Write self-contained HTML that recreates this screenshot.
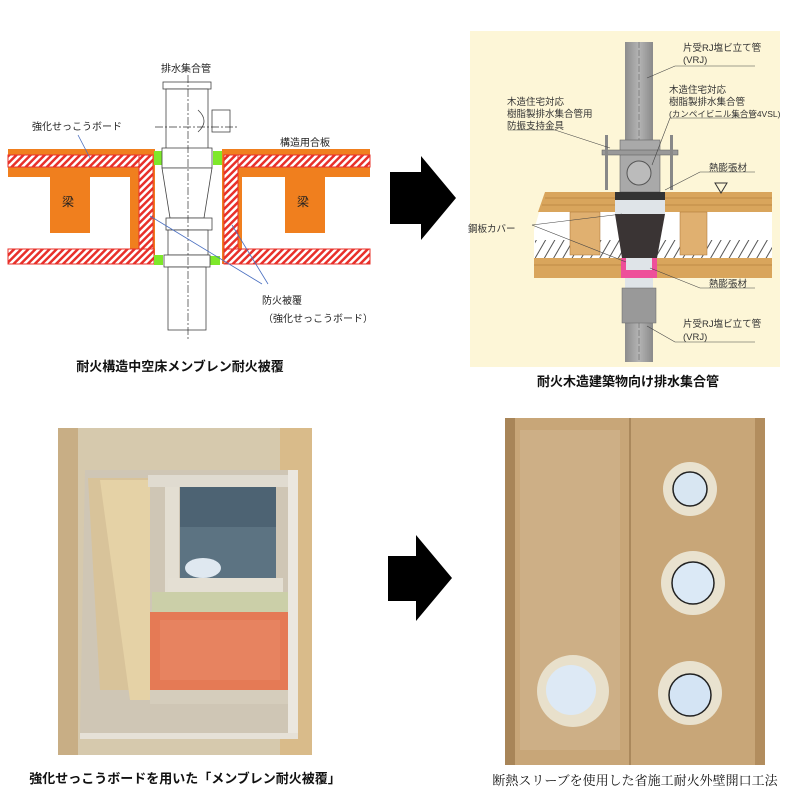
<!DOCTYPE html>
<html><head><meta charset="utf-8"><style>
html,body{margin:0;padding:0;background:#fff;}
svg{display:block;font-family:"Liberation Sans","Noto Sans CJK JP",sans-serif;}
</style></head><body>
<svg width="795" height="799" viewBox="0 0 795 799" xmlns="http://www.w3.org/2000/svg">
<defs>
<pattern id="hat" width="5" height="5" patternUnits="userSpaceOnUse" patternTransform="rotate(45)">
<rect width="5" height="5" fill="#fff"/><rect width="2.5" height="5" fill="#e8302a"/></pattern>
<pattern id="hat2" width="8" height="8" patternUnits="userSpaceOnUse" patternTransform="rotate(30)">
<rect width="8" height="8" fill="#fff"/><rect width="1" height="8" fill="#555"/></pattern>
<linearGradient id="pipe" x1="0" x2="1"><stop offset="0" stop-color="#8d8d8d"/><stop offset=".5" stop-color="#b4b4b4"/><stop offset="1" stop-color="#8a8a8a"/></linearGradient>
</defs>

<!-- ===== Top-left diagram ===== -->
<g>
<!-- orange slab -->
<rect x="8" y="149" width="147" height="28" fill="#f07f1e"/>
<rect x="222" y="149" width="148" height="28" fill="#f07f1e"/>
<rect x="130" y="149" width="25" height="115" fill="#f07f1e"/>
<rect x="222" y="149" width="20" height="115" fill="#f07f1e"/>
<rect x="50" y="177" width="40" height="56" fill="#f07f1e"/>
<rect x="285" y="177" width="40" height="56" fill="#f07f1e"/>
<!-- hatched boards -->
<rect x="8" y="155" width="142" height="12" fill="url(#hat)" stroke="#e8302a"/>
<rect x="228" y="155" width="142" height="12" fill="url(#hat)" stroke="#e8302a"/>
<rect x="139" y="155" width="14" height="109" fill="url(#hat)" stroke="#e8302a"/>
<rect x="224" y="155" width="14" height="109" fill="url(#hat)" stroke="#e8302a"/>
<rect x="8" y="249" width="146" height="15" fill="url(#hat)" stroke="#e8302a"/>
<rect x="224" y="249" width="146" height="15" fill="url(#hat)" stroke="#e8302a"/>
<!-- green seals -->
<rect x="154" y="151" width="9" height="14" fill="#7ee82a"/>
<rect x="213" y="151" width="9" height="14" fill="#7ee82a"/>
<rect x="154" y="255" width="9" height="10" fill="#7ee82a"/>
<rect x="208" y="256" width="12" height="9" fill="#7ee82a"/>
<!-- pipe -->
<g fill="#fff" stroke="#444" stroke-width="0.8">
<rect x="163" y="82" width="48" height="7"/>
<rect x="166" y="89" width="42" height="60"/>
<rect x="212" y="110" width="18" height="22"/>
<path d="M198 110 Q210 121 198 132" />
<rect x="162" y="148" width="50" height="20"/>
<path d="M162 168 L212 168 L204 218 L170 218 Z"/>
<rect x="166" y="218" width="46" height="12"/>
<rect x="168" y="230" width="40" height="25"/>
<rect x="164" y="255" width="46" height="12"/>
<rect x="168" y="267" width="38" height="63"/>
</g>
<line x1="188" y1="75" x2="188" y2="340" stroke="#333" stroke-width="0.7" stroke-dasharray="8,2,2,2"/>
<line x1="155" y1="127" x2="237" y2="127" stroke="#333" stroke-width="0.7" stroke-dasharray="8,2,2,2"/>
<!-- leaders -->
<line x1="78" y1="135" x2="90" y2="158" stroke="#4a6fc0" stroke-width="0.8"/>
<line x1="150" y1="216" x2="262" y2="284" stroke="#4a6fc0" stroke-width="0.8"/>
<line x1="232" y1="225" x2="268" y2="284" stroke="#4a6fc0" stroke-width="0.8"/>
<g font-size="10" fill="#222">
<text x="161" y="72">排水集合管</text>
<text x="32" y="130">強化せっこうボード</text>
<text x="280" y="146">構造用合板</text>
<text x="62" y="206" font-size="12">梁</text>
<text x="297" y="206" font-size="12">梁</text>
<text x="262" y="304">防火被覆</text>
<text x="263" y="322">（強化せっこうボード）</text>
</g>
<text x="180" y="371" text-anchor="middle" font-size="13" font-weight="bold" fill="#111">耐火構造中空床メンブレン耐火被覆</text>
</g>

<!-- arrow 1 -->
<path d="M390 172 L421 172 L421 156 L456 198 L421 240 L421 224 L390 224 Z" fill="#000"/>

<!-- ===== Top-right diagram ===== -->
<g>
<rect x="470" y="31" width="310" height="336" fill="#fdf6d7"/>
<!-- floor -->
<path d="M545 192 L772 192 L772 278 L534 278 L534 230 Z" fill="#fff"/>
<path d="M545 192 L772 192 L772 212 L538 212 Z" fill="#d9a55c"/>
<line x1="545" y1="198" x2="772" y2="198" stroke="#a87030" stroke-width="0.6"/>
<line x1="542" y1="205" x2="772" y2="205" stroke="#a87030" stroke-width="0.6"/>
<rect x="535" y="240" width="237" height="18" fill="url(#hat2)"/>
<rect x="534" y="258" width="238" height="20" fill="#d9a55c"/>
<line x1="534" y1="265" x2="772" y2="265" stroke="#a87030" stroke-width="0.6"/>
<rect x="570" y="212" width="30" height="43" fill="#e0b070" stroke="#a87030" stroke-width="0.5"/>
<rect x="680" y="212" width="27" height="43" fill="#e0b070" stroke="#a87030" stroke-width="0.5"/>
<!-- pipe -->
<rect x="625" y="42" width="28" height="320" fill="url(#pipe)"/>
<line x1="639" y1="42" x2="639" y2="362" stroke="#555" stroke-width="0.5" stroke-dasharray="6,2"/>
<rect x="620" y="140" width="40" height="52" fill="#a9a9a9" stroke="#666" stroke-width="0.6"/>
<circle cx="639" cy="173" r="12" fill="#bbb" stroke="#555"/>
<rect x="602" y="150" width="76" height="5" fill="#999" stroke="#555" stroke-width="0.5"/>
<rect x="605" y="135" width="3" height="55" fill="#888"/>
<rect x="670" y="135" width="3" height="55" fill="#888"/>
<!-- cone -->
<rect x="615" y="192" width="50" height="8" fill="#333"/>
<rect x="615" y="200" width="50" height="14" fill="#dfe4e8"/>
<path d="M615 214 L665 214 L657 258 L622 258 Z" fill="#3a3434"/>
<rect x="621" y="258" width="36" height="20" fill="#ee4f9a"/>
<rect x="626" y="258" width="26" height="12" fill="#dfe4e8"/>
<rect x="625" y="278" width="28" height="10" fill="#dfe4e8"/>
<rect x="622" y="288" width="34" height="35" fill="#999" stroke="#666" stroke-width="0.5"/>
<path d="M715 183 L727 183 L721 193 Z" fill="none" stroke="#333"/>
<!-- leaders -->
<g stroke="#444" stroke-width="0.6" fill="none">
<path d="M647 78 L675 66 L755 66"/>
<path d="M652 165 L670 118 L755 118"/>
<path d="M508 130 L555 130 L610 148"/>
<path d="M665 190 L700 172 L755 172"/>
<path d="M532 225 L622 214"/>
<path d="M532 225 L626 262"/>
<path d="M650 268 L700 288 L755 288"/>
<path d="M647 326 L675 342 L755 342"/>
</g>
<g font-size="9.5" fill="#333">
<text x="683" y="51">片受RJ塩ビ立て管</text>
<text x="683" y="63">(VRJ)</text>
<text x="669" y="93">木造住宅対応</text>
<text x="669" y="105">樹脂製排水集合管</text>
<text x="669" y="117" font-size="8.5">(カンペイビニル集合管4VSL)</text>
<text x="507" y="105">木造住宅対応</text>
<text x="507" y="117">樹脂製排水集合管用</text>
<text x="507" y="129">防振支持金具</text>
<text x="709" y="171">熱膨張材</text>
<text x="468" y="232">鋼板カバー</text>
<text x="709" y="287">熱膨張材</text>
<text x="683" y="327">片受RJ塩ビ立て管</text>
<text x="683" y="340">(VRJ)</text>
</g>
<text x="628" y="386" text-anchor="middle" font-size="13" font-weight="bold" fill="#111">耐火木造建築物向け排水集合管</text>
</g>

<!-- ===== Bottom-left photo ===== -->
<g>
<rect x="58" y="428" width="254" height="327" fill="#d6c9ad"/>
<rect x="280" y="428" width="32" height="327" fill="#d9bb8a"/>
<rect x="58" y="428" width="20" height="327" fill="#c8ae85"/>
<path d="M85 470 L295 470 L295 735 L80 735 Z" fill="#cfc6b5"/>
<path d="M88 478 L150 478 L150 690 L100 690 Z" fill="#d8c39a"/>
<path d="M100 480 L150 480 L150 700 L130 700 Z" fill="#e5d2a6"/>
<rect x="148" y="475" width="142" height="12" fill="#e0dbd0"/>
<rect x="165" y="487" width="14" height="105" fill="#e3ded2"/>
<rect x="180" y="487" width="96" height="92" fill="#5c7382"/>
<rect x="180" y="487" width="96" height="40" fill="#4d6373"/>
<ellipse cx="203" cy="568" rx="18" ry="10" fill="#dfe8f0"/>
<rect x="168" y="578" width="115" height="14" fill="#e4dfd3"/>
<rect x="152" y="592" width="136" height="22" fill="#cbcfa8"/>
<rect x="150" y="612" width="140" height="78" fill="#e57a55"/>
<rect x="160" y="620" width="120" height="60" fill="#e88865" opacity=".7"/>
<rect x="150" y="690" width="145" height="14" fill="#d5cdbc"/>
<rect x="288" y="470" width="10" height="265" fill="#ebe7df"/>
<rect x="80" y="733" width="218" height="6" fill="#e6e1d7"/>
<text x="185" y="783" text-anchor="middle" font-size="13" font-weight="bold" fill="#111">強化せっこうボードを用いた「メンブレン耐火被覆」</text>
</g>

<!-- arrow 2 -->
<path d="M388 556 L416 556 L416 535 L452 578 L416 621 L416 601 L388 601 Z" fill="#000"/>

<!-- ===== Bottom-right photo ===== -->
<g>
<rect x="505" y="418" width="260" height="347" fill="#c8a678"/>
<rect x="505" y="418" width="10" height="347" fill="#a88558"/>
<rect x="755" y="418" width="10" height="347" fill="#b28d5e"/>
<line x1="630" y1="418" x2="630" y2="765" stroke="#8d6a40" stroke-width="1"/>
<rect x="520" y="430" width="100" height="320" fill="#d8c0a0" opacity=".35"/>
<g>
<circle cx="690" cy="489" r="27" fill="#e9e2cf"/><circle cx="690" cy="489" r="17" fill="#d8e6f2" stroke="#222" stroke-width="1.5"/>
<circle cx="693" cy="583" r="32" fill="#e9e2cf"/><circle cx="693" cy="583" r="21" fill="#dbe9f6" stroke="#222" stroke-width="1.5"/>
<circle cx="573" cy="691" r="36" fill="#e8e0cb"/><circle cx="571" cy="690" r="25" fill="#dde9f5"/>
<circle cx="690" cy="693" r="32" fill="#e9e2cf"/><circle cx="690" cy="695" r="21" fill="#d4e4f4" stroke="#222" stroke-width="1.5"/>
</g>
<text x="635" y="785" text-anchor="middle" font-size="13" fill="#111" font-family="Liberation Serif,Noto Serif CJK SC,serif">断熱スリーブを使用した省施工耐火外壁開口工法</text>
</g>
</svg>
</body></html>
